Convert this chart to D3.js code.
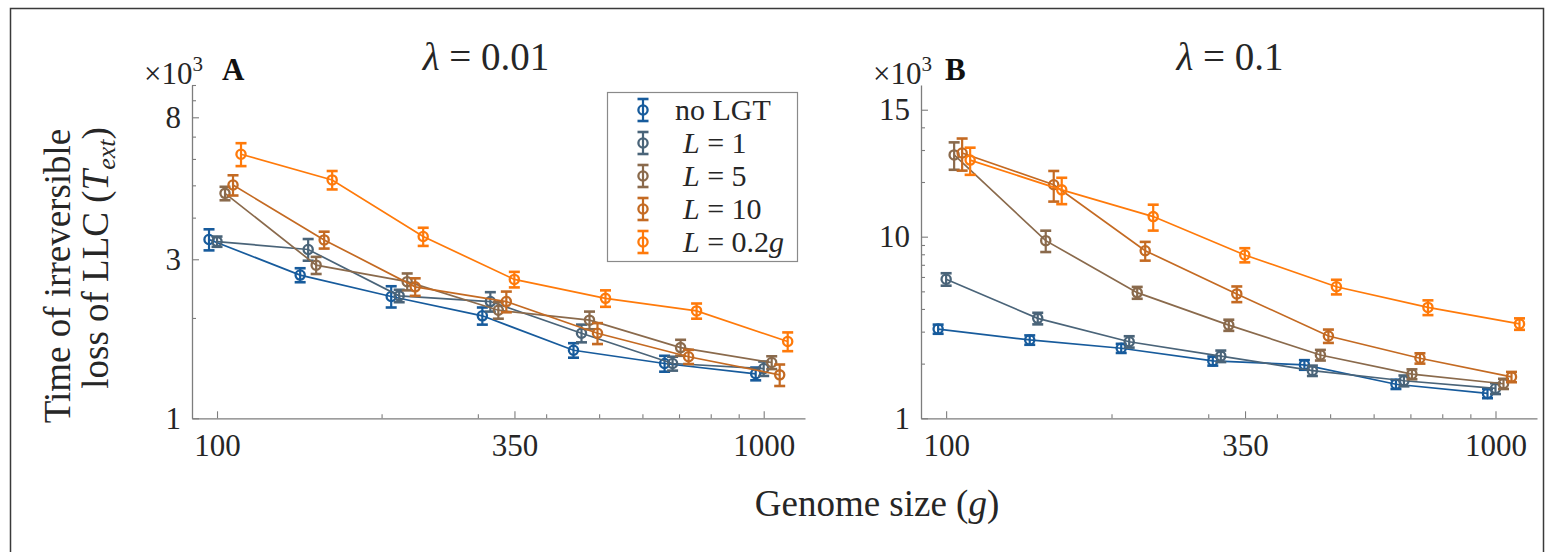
<!DOCTYPE html>
<html>
<head>
<meta charset="utf-8">
<script src="https://cdn.jsdelivr.net/npm/d3@7/dist/d3.min.js"></script>
<style>
  html, body { margin: 0; padding: 0; background: #ffffff; }
  svg { display: block; font-family: "Liberation Serif", "DejaVu Serif", serif; }
</style>
</head>
<body>
<svg id="fig" width="1550" height="552"></svg>
<script>
// Genome sizes (g), log-spaced between 100 and 1000
const genomeSizes = [100, 146.8, 215.4, 316.2, 464.2, 681.3, 1000];

// Series labels and colours
const seriesNames = ["no LGT", "L = 1", "L = 5", "L = 10", "L = 0.2g"];
const seriesColors = ["#175b9c", "#4a6479", "#8a6a4c", "#c46a22", "#ff7a0a"];

// Panel A (lambda = 0.01): mean time of irreversible loss (x10^3) and error
const tA_noLGT = [3.44, 2.69, 2.32, 2.03, 1.60, 1.46, 1.36];
const eA_noLGT = [0.25, 0.13, 0.17, 0.12, 0.08, 0.08, 0.06];
const tA_L1    = [3.39, 3.21, 2.33, 2.24, 1.80, 1.46, 1.41];
const eA_L1    = [0.12, 0.24, 0.10, 0.15, 0.11, 0.07, 0.07];
const tA_L5    = [4.73, 2.88, 2.57, 2.11, 1.97, 1.63, 1.47];
const eA_L5    = [0.22, 0.17, 0.15, 0.12, 0.12, 0.09, 0.065];
const tA_L10   = [5.01, 3.43, 2.48, 2.24, 1.80, 1.53, 1.35];
const eA_L10   = [0.35, 0.20, 0.15, 0.16, 0.13, 0.075, 0.10];
const tA_L02g  = [6.20, 5.19, 3.51, 2.61, 2.29, 2.10, 1.70];
const eA_L02g  = [0.49, 0.33, 0.22, 0.14, 0.13, 0.11, 0.11];

// Panel B (lambda = 0.1)
const tB_noLGT = [3.10, 2.70, 2.43, 2.07, 1.97, 1.54, 1.37];
const eB_noLGT = [0.18, 0.16, 0.14, 0.12, 0.12, 0.09, 0.08];
const tB_L1    = [5.83, 3.55, 2.64, 2.20, 1.83, 1.61, 1.46];
const eB_L1    = [0.46, 0.26, 0.19, 0.16, 0.12, 0.11, 0.10];
const tB_L5    = [28.2, 9.51, 4.92, 3.26, 2.23, 1.75, 1.55];
const eB_L5    = [4.85, 1.28, 0.37, 0.23, 0.15, 0.11, 0.10];
const tB_L10   = [28.9, 19.3, 8.37, 4.84, 2.84, 2.14, 1.69];
const eB_L10   = [5.8, 3.7, 0.99, 0.48, 0.24, 0.14, 0.11];
const tB_L02g  = [26.4, 18.1, 12.9, 7.93, 5.30, 4.08, 3.31];
const eB_L02g  = [4.5, 3.0, 2.1, 0.71, 0.49, 0.38, 0.24];

// Axis ticks
const xTicks = [100, 350, 1000];
const xMinorTicks = [200, 300, 400, 500, 600, 700, 800, 900];
const yTicksA = [1, 3, 8];
const yTickLabelsA = ["1", "3", "8"];
const yMinorTicksA = [2, 4, 5, 6, 7, 9, 10];
const yTicksB = [1, 10, 50];
const yTickLabelsB = ["1", "10", "15"];
const yMinorTicksB = [2, 3, 4, 5, 6, 7, 8, 9, 20, 30, 40];

const svg = d3.select("#fig");
const textColor = "#262626";
const axisColor = "#7d7d7d";

// outer frame of the figure
svg.append("rect")
  .attr("x", 10.5).attr("y", 8.5).attr("width", 1533).attr("height", 560)
  .attr("fill", "none").attr("stroke", "#3a3a3a").attr("stroke-width", 1.5);

// horizontal offset (px) per series so overlapping error bars stay readable
const dodge = [-8, 0, 8, 16, 24];

function marker(sel, cx, yTop, yMid, yBot, col) {
  sel.append("line").attr("x1", cx).attr("x2", cx).attr("y1", yTop).attr("y2", yBot)
    .attr("stroke", col).attr("stroke-width", 2.2);
  [yTop, yBot].forEach(yy => sel.append("line")
    .attr("x1", cx - 5.5).attr("x2", cx + 5.5).attr("y1", yy).attr("y2", yy)
    .attr("stroke", col).attr("stroke-width", 2.6));
  sel.append("circle").attr("cx", cx).attr("cy", yMid).attr("r", 4.6)
    .attr("fill", "none").attr("stroke", col).attr("stroke-width", 2.3);
}

function drawPanel(opts) {
  const x = d3.scaleLog().domain([90, 1190]).range([opts.x0, opts.x1]);
  const y = d3.scaleLog().domain(opts.yDomain).range([418.3, 85]);
  const g = svg.append("g");

  // minor ticks
  g.append("g").attr("transform", "translate(0,418.3)")
    .call(d3.axisBottom(x).tickValues(xMinorTicks).tickSizeInner(-4).tickSizeOuter(0).tickFormat(""))
    .call(s => s.select(".domain").remove());
  g.append("g").attr("transform", `translate(${opts.x0},0)`)
    .call(d3.axisLeft(y).tickValues(opts.yMinor).tickSizeInner(-4).tickSizeOuter(0).tickFormat(""))
    .call(s => s.select(".domain").remove());

  // major axes
  g.append("g").attr("transform", "translate(0,418.3)")
    .call(d3.axisBottom(x).tickValues(xTicks).tickSizeInner(-7).tickSizeOuter(0)
      .tickPadding(16).tickFormat(d3.format("d")));
  g.append("g").attr("transform", `translate(${opts.x0},0)`)
    .call(d3.axisLeft(y).tickValues(opts.yTicks).tickSizeInner(-7).tickSizeOuter(0)
      .tickPadding(11).tickFormat((d, i) => opts.yLabels[i]));

  g.selectAll(".tick line").attr("stroke", axisColor).attr("stroke-width", 1.1);
  g.selectAll(".domain").attr("stroke", axisColor).attr("stroke-width", 1.3);
  g.selectAll(".tick text").attr("fill", textColor).attr("font-size", 31)
    .attr("font-family", "Liberation Serif, serif");

  // series: line, error bars, markers
  opts.series.forEach((s, si) => {
    const col = seriesColors[si];
    const pts = genomeSizes.map((gs, i) => ({
      px: x(gs) + dodge[si], v: s.t[i], e: s.e[i]
    }));
    const sg = g.append("g");
    sg.append("path")
      .attr("d", d3.line().x(d => d.px).y(d => y(d.v))(pts))
      .attr("fill", "none").attr("stroke", col).attr("stroke-width", 1.7);
    pts.forEach(d => marker(sg, d.px, y(d.v + d.e), y(d.v), y(d.v - d.e), col));
  });

  // exponent label
  const ex = svg.append("text").attr("x", opts.x0 + 11).attr("y", 84)
    .attr("text-anchor", "end").attr("fill", textColor).attr("font-size", 31);
  ex.append("tspan").text("\u00d710");
  ex.append("tspan").attr("font-size", 21).attr("dy", -13).text("3");

  // panel letter
  svg.append("text").attr("x", opts.letterX).attr("y", 80)
    .attr("font-weight", "bold").attr("font-size", 31).attr("fill", "#111")
    .text(opts.letter);

  // panel title
  const tt = svg.append("text").attr("x", opts.titleX).attr("y", 70)
    .attr("text-anchor", "middle").attr("fill", textColor).attr("font-size", 39);
  tt.append("tspan").attr("font-style", "italic").text("\u03bb");
  tt.append("tspan").text(" = " + opts.lambda);
}

drawPanel({
  x0: 192, x1: 805, yDomain: [1, 10],
  yTicks: yTicksA, yLabels: yTickLabelsA, yMinor: yMinorTicksA,
  series: [
    { t: tA_noLGT, e: eA_noLGT }, { t: tA_L1, e: eA_L1 }, { t: tA_L5, e: eA_L5 },
    { t: tA_L10, e: eA_L10 }, { t: tA_L02g, e: eA_L02g }
  ],
  letter: "A", letterX: 222, titleX: 486, lambda: "0.01"
});

drawPanel({
  x0: 921, x1: 1537, yDomain: [1, 68.4],
  yTicks: yTicksB, yLabels: yTickLabelsB, yMinor: yMinorTicksB,
  series: [
    { t: tB_noLGT, e: eB_noLGT }, { t: tB_L1, e: eB_L1 }, { t: tB_L5, e: eB_L5 },
    { t: tB_L10, e: eB_L10 }, { t: tB_L02g, e: eB_L02g }
  ],
  letter: "B", letterX: 945, titleX: 1230, lambda: "0.1"
});

// legend
const lg = svg.append("g");
lg.append("rect").attr("x", 607.5).attr("y", 92.5).attr("width", 190).attr("height", 169)
  .attr("fill", "#fff").attr("stroke", "#8a8a8a").attr("stroke-width", 1.2);
seriesNames.forEach((name, i) => {
  const cy = 110 + i * 33;
  const col = seriesColors[i];
  marker(lg, 643, cy - 11, cy, cy + 11, col);
  const t = lg.append("text").attr("x", name === "no LGT" ? 675 : 683).attr("y", cy + 10)
    .attr("font-size", 30).attr("fill", textColor);
  if (name.startsWith("L")) {
    t.append("tspan").attr("font-style", "italic").text("L");
    const rest = name.slice(1);
    if (rest.endsWith("g")) {
      t.append("tspan").text(rest.slice(0, -1));
      t.append("tspan").attr("font-style", "italic").text("g");
    } else {
      t.append("tspan").text(rest);
    }
  } else {
    t.text(name);
  }
});

// axis titles
const xt = svg.append("text").attr("x", 877).attr("y", 516)
  .attr("text-anchor", "middle").attr("font-size", 37).attr("fill", textColor);
xt.append("tspan").text("Genome size (");
xt.append("tspan").attr("font-style", "italic").text("g");
xt.append("tspan").text(")");

svg.append("text").attr("transform", "translate(70,276) rotate(-90)")
  .attr("text-anchor", "middle").attr("font-size", 37).attr("fill", textColor)
  .text("Time of irreversible");
const yt2 = svg.append("text").attr("transform", "translate(108,258) rotate(-90)")
  .attr("text-anchor", "middle").attr("font-size", 37).attr("fill", textColor);
yt2.append("tspan").text("loss of LLC (");
yt2.append("tspan").attr("font-style", "italic").text("T");
yt2.append("tspan").attr("font-style", "italic").attr("font-size", 26).attr("dy", 7).text("ext");
yt2.append("tspan").attr("dy", -7).text(")");
</script>
</body>
</html>
